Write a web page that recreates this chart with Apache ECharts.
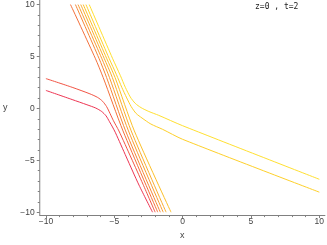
<!DOCTYPE html>
<html><head><meta charset="utf-8">
<script src="https://cdn.jsdelivr.net/npm/echarts@6/dist/echarts.min.js"></script>
<style>html,body{margin:0;padding:0;background:#fff}#c{width:327px;height:245px}</style>
</head><body><div id="c"></div>
<script>
const titleText = 'z=0 , t=2';
const xName = 'x';
const yName = 'y';
const tickValues = [-10, -5, 0, 5, 10];

// contour curves, [x, y] in data units
const curveRed1 = [[-10,1.73],[-8.08,0.85],[-7.00,0.35],[-6.35,0.03],[-5.92,-0.30],[-5.60,-0.72],[-5.35,-1.28],[-5.13,-1.79],[-4.91,-2.35],[-4.12,-4.68],[-3.19,-7.39],[-2.20,-10]];
const curveRed2 = [[-10,2.87],[-8.08,2.03],[-6.78,1.40],[-6.21,1.05],[-5.85,0.68],[-5.56,0.17],[-5.31,-0.49],[-5.06,-1.19],[-4.66,-2.17],[-3.76,-4.78],[-2.90,-7.30],[-2.01,-10]];
const curveT1 = [[-8.20,10],[-6.39,4.83],[-5.81,2.97],[-4.36,-2.17],[-1.82,-10]];
const curveT2 = [[-7.84,10],[-6.12,4.83],[-5.56,2.97],[-4.17,-2.17],[-1.63,-10]];
const curveT3 = [[-7.65,10],[-5.92,4.83],[-5.35,2.97],[-3.96,-2.17],[-1.42,-10]];
const curveT4 = [[-7.45,10],[-5.74,4.83],[-5.14,2.97],[-3.76,-2.17],[-1.21,-10]];
const curveT5 = [[-7.27,10],[-5.56,4.83],[-4.94,2.97],[-3.53,-2.17],[-0.85,-10]];
const curveYellow1 = [[-7.07,10],[-5.38,4.83],[-4.84,3.25],[-4.45,2.03],[-4.09,1.01],[-3.76,0.17],[-3.40,-0.49],[-2.97,-0.93],[-2.32,-1.51],[-1.46,-2.02],[0,-2.98],[10,-8.07]];
const curveYellow2 = [[-6.83,10],[-5.13,4.83],[-4.55,3.15],[-4.19,2.03],[-3.83,1.10],[-3.47,0.49],[-3.04,0.07],[-2.47,-0.30],[-1.75,-0.67],[0,-1.67],[10,-6.83]];

const curves = [curveRed1, curveRed2, curveT1, curveT2, curveT3, curveT4, curveT5, curveYellow1, curveYellow2];
const curveColors = ['#ee3452','#f25444','#f4703a','#f68636','#f89c32','#faae2e','#fcc02a','#fed02a','#ffe030'];

const axisGray = '#808080';
const labelColor = '#444';
const fmt = v => String(v).replace('-', '\u2212');

const chart = echarts.init(document.getElementById('c'), null, {renderer: 'canvas'});
chart.setOption({
  animation: false,
  backgroundColor: '#fff',
  title: {
    text: titleText, left: 255, top: 3, padding: 0,
    textStyle: {fontFamily: 'DejaVu Sans Mono', fontSize: 8, fontWeight: 'normal', color: '#222'}
  },
  grid: {left: 37, right: 0, top: 0, bottom: 23},
  xAxis: {
    type: 'value', min: -10.45, max: 10.41,
    name: xName, nameLocation: 'middle', nameGap: 15,
    nameTextStyle: {fontFamily: 'Liberation Sans', fontSize: 9, color: labelColor},
    axisLine: {show: true, onZero: false, lineStyle: {color: axisGray, width: 1}},
    axisTick: {show: true, length: 3, customValues: tickValues, lineStyle: {color: axisGray}},
    minorTick: {show: true, splitNumber: 5, length: 2, lineStyle: {color: axisGray}},
    axisLabel: {customValues: tickValues, margin: 2, fontSize: 8.5, color: labelColor, fontFamily: 'Liberation Sans', formatter: fmt},
    splitLine: {show: false}
  },
  yAxis: {
    type: 'value', min: -10.28, max: 10.44,
    name: yName, nameLocation: 'middle', nameGap: 34.5, nameRotate: 0,
    nameTextStyle: {fontFamily: 'Liberation Sans', fontSize: 9, color: labelColor, align: 'center', verticalAlign: 'middle'},
    axisLine: {show: true, onZero: false, lineStyle: {color: axisGray, width: 1}},
    axisTick: {show: true, length: 3, customValues: tickValues, lineStyle: {color: axisGray}},
    minorTick: {show: true, splitNumber: 5, length: 2, lineStyle: {color: axisGray}},
    axisLabel: {customValues: tickValues, margin: 5, fontSize: 8.5, color: labelColor, fontFamily: 'Liberation Sans', formatter: fmt},
    splitLine: {show: false}
  },
  series: curves.map((c, i) => ({
    type: 'line', data: c, showSymbol: false, symbol: 'none', smooth: 0.25,
    lineStyle: {color: curveColors[i], width: 1}, silent: true, z: 2
  }))
});
</script>
</body></html>
